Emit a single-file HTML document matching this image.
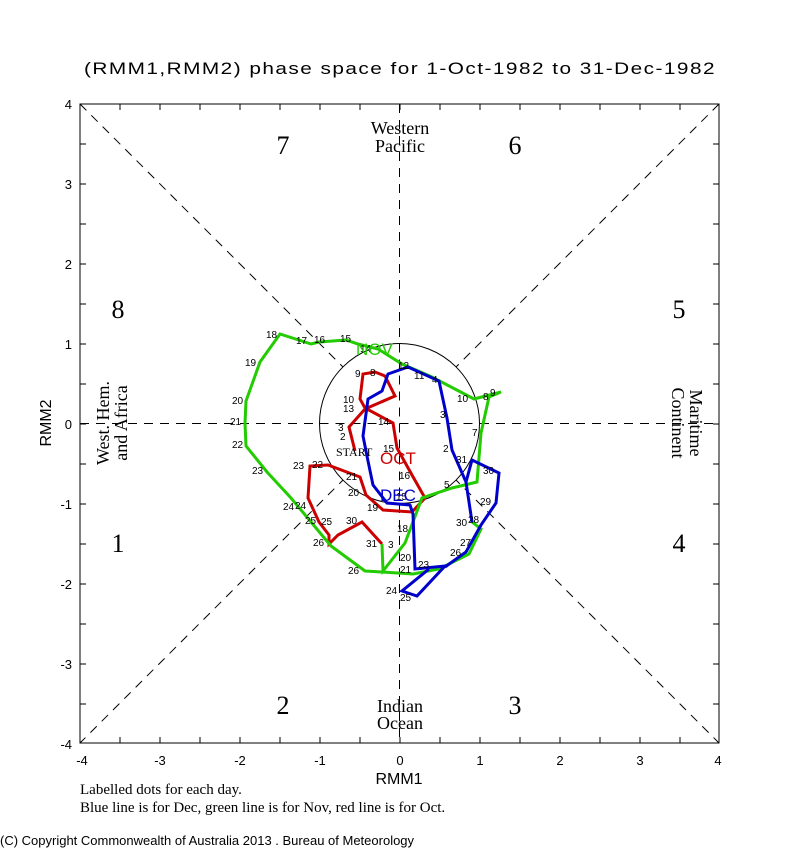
<!DOCTYPE html>
<html><head><meta charset="utf-8"><style>
html,body{margin:0;padding:0;background:#fff;width:800px;height:850px;overflow:hidden}
svg{display:block}
.t{font-family:"Liberation Sans",sans-serif;}
.s{font-family:"Liberation Serif",serif;}
.n{font-family:"Liberation Sans",sans-serif;font-size:10px;fill:#000}
</style></head><body>
<svg width="800" height="850" viewBox="0 0 800 850" xmlns="http://www.w3.org/2000/svg">
<text x="400" y="74" text-anchor="middle" class="t" font-size="17" letter-spacing="1.2" textLength="632" lengthAdjust="spacingAndGlyphs">(RMM1,RMM2) phase space for  1-Oct-1982 to 31-Dec-1982</text>
<g stroke="#000" stroke-width="1" fill="none">
<rect x="80" y="104" width="639" height="639"/>
<g stroke-dasharray="9,7">
<line x1="80" y1="104" x2="719" y2="743"/>
<line x1="719" y1="104" x2="80" y2="743"/>
<line x1="80" y1="423.5" x2="719" y2="423.5"/>
<line x1="399.5" y1="104" x2="399.5" y2="743"/>
</g>
<circle cx="399.5" cy="423.5" r="80" fill="#fff"/>
<path d="M120 104v6M160 104v6M200 104v6M240 104v6M280 104v6M320 104v6M360 104v6M400 104v6M440 104v6M480 104v6M520 104v6M560 104v6M600 104v6M640 104v6M680 104v6
M120 743v-6M160 743v-6M200 743v-6M240 743v-6M280 743v-6M320 743v-6M360 743v-6M400 743v-6M440 743v-6M480 743v-6M520 743v-6M560 743v-6M600 743v-6M640 743v-6M680 743v-6
M80 144h6M80 184h6M80 224h6M80 264h6M80 304h6M80 344h6M80 384h6M80 424h6M80 464h6M80 504h6M80 544h6M80 584h6M80 624h6M80 664h6M80 704h6
M719 144h-6M719 184h-6M719 224h-6M719 264h-6M719 304h-6M719 344h-6M719 384h-6M719 424h-6M719 464h-6M719 504h-6M719 544h-6M719 584h-6M719 624h-6M719 664h-6M719 704h-6"/>
</g>
<g stroke="#000" stroke-dasharray="9,7" fill="none">
<line x1="319.5" y1="423.5" x2="479.5" y2="423.5"/>
<line x1="399.5" y1="343.5" x2="399.5" y2="503.5"/>
</g>
<g class="t" font-size="13" text-anchor="end">
<text x="72" y="109">4</text><text x="72" y="189">3</text><text x="72" y="269">2</text><text x="72" y="349">1</text><text x="72" y="429">0</text><text x="72" y="509">-1</text><text x="72" y="589">-2</text><text x="72" y="669">-3</text><text x="72" y="749">-4</text>
</g>
<g class="t" font-size="13" text-anchor="middle">
<text x="82" y="765">-4</text><text x="160" y="765">-3</text><text x="240" y="765">-2</text><text x="320" y="765">-1</text><text x="400" y="765">0</text><text x="480" y="765">1</text><text x="560" y="765">2</text><text x="640" y="765">3</text><text x="718" y="765">4</text>
</g>
<text x="399" y="784" text-anchor="middle" class="t" font-size="16">RMM1</text>
<text transform="translate(51,423) rotate(-90)" text-anchor="middle" class="t" font-size="16">RMM2</text>
<g class="s" font-size="26" text-anchor="middle">
<text x="283" y="154">7</text><text x="515" y="154">6</text><text x="118" y="318">8</text><text x="679" y="318">5</text><text x="118" y="552">1</text><text x="679" y="552">4</text><text x="283" y="714">2</text><text x="515" y="714">3</text>
</g>
<g class="s" font-size="18" text-anchor="middle">
<text x="400" y="134">Western</text><text x="400" y="152">Pacific</text>
<text x="400" y="712">Indian</text><text x="400" y="729">Ocean</text>
<text transform="translate(109,423) rotate(-90)">West. Hem.</text>
<text transform="translate(127,423) rotate(-90)">and Africa</text>
<text transform="translate(690,423) rotate(90)">Maritime</text>
<text transform="translate(672,423) rotate(90)">Continent</text>
</g>
<g fill="none" stroke-width="3" stroke-linejoin="miter">
<polyline stroke="#cc0000" points="355,451 349,427 365,409 395,396 385,376 375,372 363,374 360,399 365,408 393,423 397,448 412,475 425,498 412,512 383,510 366,495 360,477 328,465 310,466 308,498 319,522 329,535 329,544 338,535 362,522 382,544"/>
<polyline stroke="#22cc00" points="382,544 383,571 405,543 422,498 452,488 477,482 481,433 489,397 501,392 474,399 432,377 402,364 378,349 358,344 346,340 319,342 311,344 280,334 260,362 246,401 245,423 246,446 267,472 291,498 311,522 331,546 365,571 382,572 413,574 439,569 469,554 481,529 472,522"/>
<polyline stroke="#0000cc" points="472,522 466,482 452,450 447,418 439,381 408,367 388,374 382,391 368,399 363,436 368,461 373,485 387,503 410,505 413,514 415,569 445,566 417,596 402,591 429,569"/>
<polyline stroke="#0000cc" points="466,482 472,460 499,473 496,503 481,525 466,552 445,567"/>
</g>
<g class="n">
<text x="266" y="338">18</text><text x="245" y="366">19</text><text x="232" y="404">20</text><text x="230" y="425">21</text><text x="232" y="448">22</text><text x="252" y="474">23</text><text x="283" y="510">24</text><text x="305" y="524">25</text><text x="313" y="546">26</text><text x="348" y="574">26</text>
<text x="296" y="344">17</text><text x="314" y="343">16</text><text x="340" y="342">15</text><text x="360" y="352">14</text><text x="398" y="369">12</text><text x="414" y="379">11</text><text x="457" y="402">10</text><text x="490" y="396">9</text><text x="483" y="400">8</text><text x="472" y="436">7</text>
<text x="355" y="377">9</text><text x="370" y="376">8</text><text x="343" y="403">10</text><text x="343" y="412">13</text><text x="338" y="431">3</text><text x="340" y="440">2</text><text x="378" y="425">14</text><text x="383" y="452">15</text><text x="399" y="479">16</text><text x="367" y="511">19</text><text x="348" y="496">20</text><text x="346" y="480">21</text><text x="293" y="469">23</text><text x="312" y="468">22</text><text x="295" y="509">24</text><text x="321" y="525">25</text><text x="346" y="524">30</text><text x="366" y="547">31</text>
<text x="440" y="418">3</text><text x="443" y="452">2</text><text x="456" y="463">31</text><text x="483" y="474">30</text><text x="480" y="505">29</text><text x="468" y="523">28</text><text x="456" y="526">30</text><text x="460" y="546">27</text><text x="450" y="556">26</text><text x="432" y="383">4</text><text x="396" y="500">15</text><text x="397" y="532">18</text><text x="388" y="548">3</text><text x="400" y="561">20</text><text x="400" y="573">21</text><text x="418" y="568">23</text><text x="386" y="594">24</text><text x="400" y="601">25</text><text x="444" y="488">5</text>
</g>
<text x="356" y="355" class="t" font-size="17" fill="#22cc00">NOV</text>
<text x="380" y="464" class="t" font-size="17" fill="#cc0000">OCT</text>
<text x="380" y="501" class="t" font-size="17" fill="#0000cc">DEC</text>
<text x="336" y="456" class="s" font-size="12">START</text>
<text x="80" y="794" class="s" font-size="15">Labelled dots for each day.</text>
<text x="80" y="812" class="s" font-size="15">Blue line is for Dec, green line is for Nov, red line is for Oct.</text>
<text x="0" y="845" class="t" font-size="13">(C) Copyright Commonwealth of Australia 2013 . Bureau of Meteorology</text>
</svg>
</body></html>
